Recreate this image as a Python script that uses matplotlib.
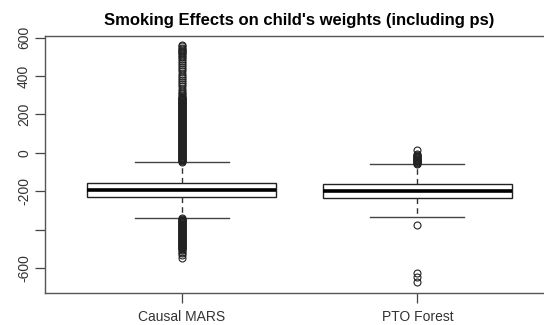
import matplotlib.pyplot as plt

# groups and box stats
groups = ["Causal MARS", "PTO Forest"]
medians = [-193, -198]
q1 = [-229, -234]
q3 = [-156, -161]
whisk_lo = [-338, -333]
whisk_hi = [-47, -57]

# outliers (dense runs read as closely packed values)
mars_fliers = [-45, -42, -39, -36, -33, -30, -27, -24, -21, -18, -15, -12, -9, -6, -3,
               0, 3, 6, 9, 12, 15, 18, 21, 24, 27, 30, 33, 36, 39, 42, 45, 48, 51,
               54, 57, 60, 63, 66, 69, 72, 75, 78, 81, 84, 87, 90, 93, 96, 99, 102,
               105, 108, 111, 114, 117, 120, 123, 126, 129, 132, 135, 138, 141, 144,
               147, 150, 153, 156, 159, 162, 165, 168, 171, 174, 177, 180, 183, 186,
               189, 192, 195, 198, 201, 204, 207, 210, 213, 216, 219, 222, 225, 228,
               231, 234, 237, 240, 243, 246, 249, 252, 255, 258, 261, 264, 267, 270,
               273, 276, 279, 282, 285, 288, 292,
               298, 306, 314, 322, 335, 348, 356, 370, 381, 392, 400, 412, 425, 436,
               448, 458, 466, 478, 490, 500, 506, 512, 518, 524, 530, 536, 542, 548,
               554, 560,
               -340, -343, -346, -349, -352, -355, -358, -361, -364, -367, -370,
               -373, -376, -379, -382, -385, -388, -391, -394, -397, -400, -403,
               -406, -409, -412, -415, -418, -421, -424, -427, -430, -433, -436,
               -439, -442, -445, -448, -451, -454, -457, -460, -463, -466, -469,
               -472, -475, -478, -481, -484, -487, -490, -493, -496, -500, -506,
               -513, -522, -533, -546]
pto_fliers = [-56, -53, -50, -47, -44, -41, -38, -35, -32, -29, -26, -23, -20,
              -17, -14, -11, -8, 16,
              -374, -624, -645, -671]
fliers = [mars_fliers, pto_fliers]

yticks = [-600, -400, -200, 0, 200, 400, 600]
ytick_labels = ["-600", "", "-200", "0", "200", "400", "600"]

plt.rcParams['font.family'] = ['Liberation Sans', 'DejaVu Sans']

fig = plt.figure(figsize=(5.44, 3.25), dpi=100)
ax = fig.add_axes([45 / 544, 32 / 325, 509 / 544, 257 / 325])

stats = []
for i in range(len(groups)):
    stats.append(dict(med=medians[i], q1=q1[i], q3=q3[i],
                      whislo=whisk_lo[i], whishi=whisk_hi[i],
                      fliers=fliers[i], label=groups[i]))

ax.bxp(stats, positions=[1, 2], widths=0.8, patch_artist=True,
       boxprops=dict(facecolor='white', edgecolor='#222222', linewidth=1.0),
       medianprops=dict(color='black', linewidth=2.6),
       whiskerprops=dict(color='#333333', linewidth=1.0, linestyle=(0, (4, 3))),
       capprops=dict(color='#444444', linewidth=1.0),
       capwidths=0.4,
       flierprops=dict(marker='o', markersize=5, markerfacecolor='none',
                       markeredgecolor='#222222', markeredgewidth=0.8))

ax.set_xlim(0.42, 2.58)
ax.set_ylim(-728, 608)
ax.set_yticks(yticks)
ax.set_yticklabels(ytick_labels, rotation=90, va='center')
ax.set_xticks([1, 2])
ax.set_xticklabels(groups)
ax.tick_params(axis='both', direction='out', length=7, width=0.9,
               color='#444444', labelsize=10, labelcolor='#333333')
ax.tick_params(axis='y', pad=3)
ax.tick_params(axis='x', pad=5)
for s in ax.spines.values():
    s.set_color('#555555')
    s.set_linewidth(1.0)

ax.set_title("Smoking Effects on child's weights (including ps)",
             fontsize=12, fontweight='bold', pad=8)

fig.savefig('out.png', dpi=100)
